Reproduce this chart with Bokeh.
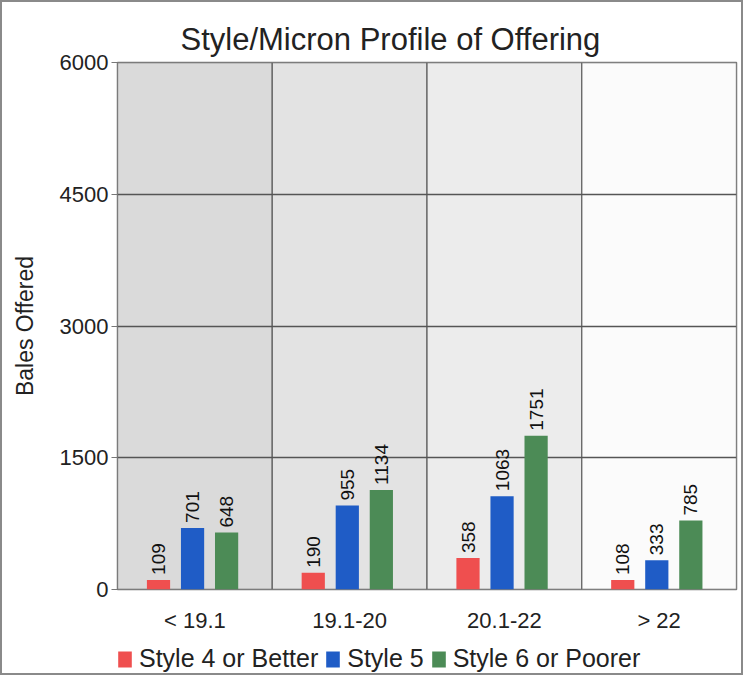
from bokeh.plotting import figure
from bokeh.layouts import column
from bokeh.models import FactorRange, Range1d, ColumnDataSource, Legend, LegendItem, Title
from bokeh.transform import dodge
from bokeh.core.properties import value
from bokeh.embed import file_html
from bokeh.resources import INLINE
import math

categories = ["< 19.1", "19.1-20", "20.1-22", "> 22"]
style4 = [109, 190, 358, 108]
style5 = [701, 955, 1063, 333]
style6 = [648, 1134, 1751, 785]
series_names = ["Style 4 or Better", "Style 5", "Style 6 or Poorer"]
y_ticks = [0, 1500, 3000, 4500, 6000]

colors = ["#ef4f4f", "#1f5cc6", "#4c8b56"]
bg_colors = ["#dadada", "#e3e3e3", "#ececec", "#fbfbfb"]
FONT = "Liberation Sans"

src = ColumnDataSource(dict(
    cat=categories,
    s4=style4, s5=style5, s6=style6,
    l4=[str(v) for v in style4], l5=[str(v) for v in style5], l6=[str(v) for v in style6],
    top=[y_ticks[-1]] * len(categories),
    bg=bg_colors,
))

p = figure(x_range=FactorRange(*categories, range_padding=0),
           y_range=Range1d(0, 6000),
           width=739, height=638, output_backend="svg", toolbar_location=None,
           min_border_left=115, min_border_right=5, min_border_top=60, min_border_bottom=51)

p.title = Title(text="Style/Micron Profile of Offering", text_font=FONT, text_font_size="31px",
                text_font_style="normal", text_color="#222222", align="left", offset=63,
                standoff=11)

# background columns (also give the vertical grid lines at category boundaries)
p.vbar(x="cat", top="top", bottom=0, width=1.0, source=src, fill_color="bg",
       line_color="#666666", line_width=1.3, level="image")

offs = [-0.235, -0.015, 0.205]
w = 0.15
p.vbar(x=dodge("cat", offs[0], range=p.x_range), top="s4", width=w, source=src,
       fill_color=colors[0], line_color=None)
p.vbar(x=dodge("cat", offs[1], range=p.x_range), top="s5", width=w, source=src,
       fill_color=colors[1], line_color=None)
p.vbar(x=dodge("cat", offs[2], range=p.x_range), top="s6", width=w, source=src,
       fill_color=colors[2], line_color=None)

for d, ycol, lcol in [(offs[0], "s4", "l4"), (offs[1], "s5", "l5"), (offs[2], "s6", "l6")]:
    p.text(x=dodge("cat", d, range=p.x_range), y=ycol, text=lcol, source=src,
           angle=math.pi / 2, text_align="left", text_baseline="middle",
           x_offset=0, y_offset=-5, text_font=value(FONT), text_font_size="19px",
           text_color="#111111")

p.background_fill_color = "#ffffff"
p.border_fill_color = "#ffffff"
p.outline_line_color = "#777777"
p.outline_line_width = 1.5

p.xgrid.grid_line_color = None
p.ygrid.grid_line_color = "#555555"
p.ygrid.grid_line_width = 1.3
p.ygrid.level = "underlay"

p.yaxis.ticker = y_ticks
p.yaxis.axis_label = "Bales Offered"
p.yaxis.axis_label_text_font = FONT
p.yaxis.axis_label_text_font_size = "23px"
p.yaxis.axis_label_text_font_style = "normal"
p.yaxis.axis_label_text_color = "#222222"
p.yaxis.axis_label_standoff = 19
p.yaxis.major_label_text_font = FONT
p.yaxis.major_label_text_font_size = "22px"
p.yaxis.major_label_text_color = "#222222"
p.yaxis.axis_line_color = None
p.yaxis.major_tick_line_color = "#777777"
p.yaxis.major_tick_out = 6
p.yaxis.major_tick_in = 0
p.yaxis.minor_tick_line_color = None
p.yaxis.major_label_standoff = 3

p.xaxis.axis_line_color = None
p.xaxis.major_tick_line_color = None
p.xaxis.major_label_text_font = FONT
p.xaxis.major_label_text_font_size = "22px"
p.xaxis.major_label_text_color = "#222222"
p.xaxis.major_label_standoff = 12

# legend strip below the chart
p2 = figure(x_range=FactorRange(*categories, range_padding=0),
            y_range=Range1d(10000, 10001),
            width=739, height=33, output_backend="svg", toolbar_location=None,
            x_axis_location=None, y_axis_location=None,
            min_border_left=0, min_border_right=0, min_border_top=0, min_border_bottom=0)
p2.outline_line_color = None
p2.xgrid.grid_line_color = None
p2.ygrid.grid_line_color = None
p2.border_fill_color = "#ffffff"
p2.background_fill_color = "#ffffff"
k4 = p2.vbar(x="cat", top="s4", width=w, source=src, fill_color=colors[0], line_color=None)
k5 = p2.vbar(x="cat", top="s5", width=w, source=src, fill_color=colors[1], line_color=None)
k6 = p2.vbar(x="cat", top="s6", width=w, source=src, fill_color=colors[2], line_color=None)

legend = Legend(items=[LegendItem(label=series_names[0], renderers=[k4]),
                       LegendItem(label=series_names[1], renderers=[k5]),
                       LegendItem(label=series_names[2], renderers=[k6])],
                orientation="horizontal", location=(-1, 0),
                label_text_font=FONT, label_text_font_size="25px", label_text_color="#222222",
                glyph_width=17, glyph_height=20, label_standoff=6, spacing=6,
                padding=1, margin=0, border_line_color=None, background_fill_alpha=0)
p2.add_layout(legend)

layout = column(p, p2, spacing=0)
layout.styles = {"border": "2px solid #8a8a8a"}

open("out.html", "w").write(file_html(layout, INLINE))
